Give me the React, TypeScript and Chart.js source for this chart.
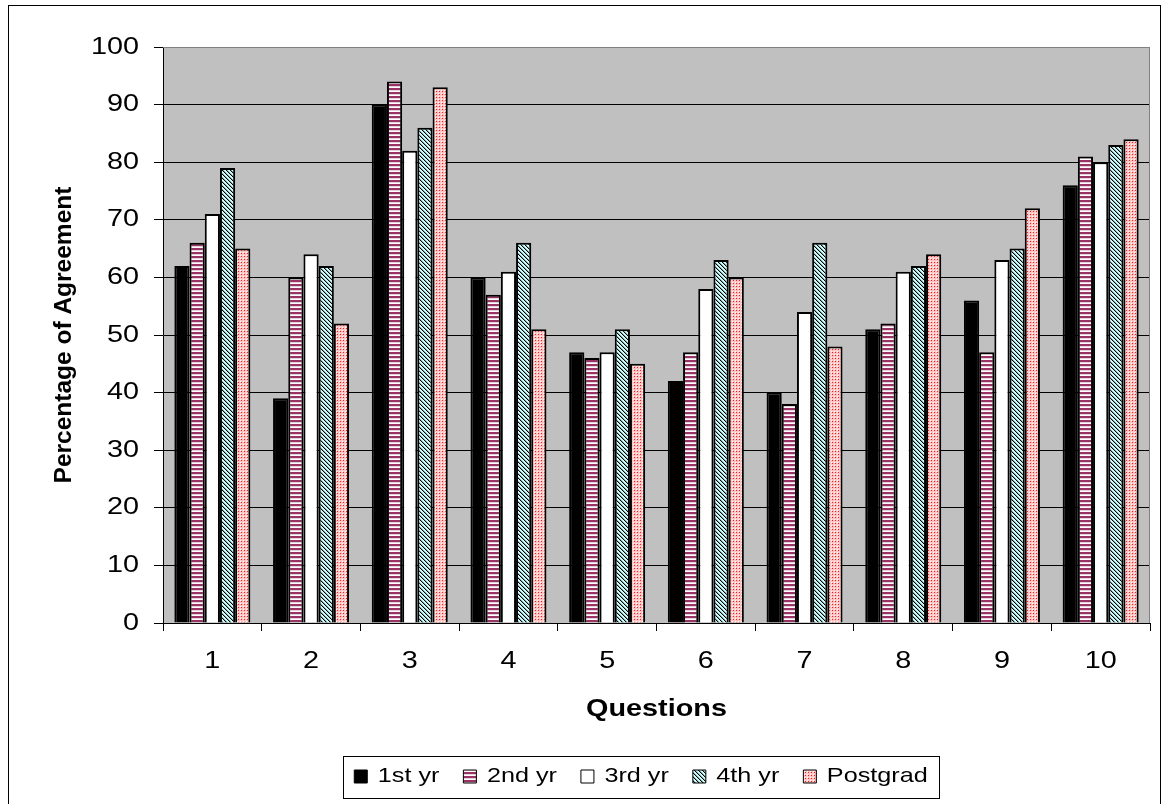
import React, { useEffect, useRef } from 'react';
import { Chart, registerables } from 'chart.js';

Chart.register(...registerables);

const questions = ['1', '2', '3', '4', '5', '6', '7', '8', '9', '10'];
const seriesNames = ['1st yr', '2nd yr', '3rd yr', '4th yr', 'Postgrad'];
const firstYear = [62, 39, 90, 60, 47, 42, 40, 51, 56, 76];
const secondYear = [66, 60, 94, 57, 46, 47, 38, 52, 47, 81];
const thirdYear = [71, 64, 82, 61, 47, 58, 54, 61, 63, 80];
const fourthYear = [79, 62, 86, 66, 51, 63, 66, 62, 65, 83];
const postgrad = [65, 52, 93, 51, 45, 60, 48, 64, 72, 84];
const yMin = 0;
const yMax = 100;
const yStep = 10;

const FONT = "'Liberation Sans', Arial, sans-serif";
const SX = 1.2;
const LEGEND_FONT = 21;
const LEGEND_PAD = 24;
const BOTTOM_PAD = 7;
const LEGEND_CENTER = 641;

function makePattern(kind: string): CanvasPattern | string {
  const c = document.createElement('canvas');
  const ctx = c.getContext('2d');
  if (!ctx) return '#fff';
  if (kind === 'hstripe') {
    c.width = 4; c.height = 4;
    ctx.fillStyle = '#ffffff';
    ctx.fillRect(0, 0, 4, 4);
    ctx.fillStyle = '#993366';
    ctx.fillRect(0, 0, 4, 2);
    ctx.fillStyle = '#e8d0dc';
    ctx.fillRect(0, 2, 4, 1);
  } else if (kind === 'diag') {
    c.width = 4; c.height = 4;
    ctx.fillStyle = '#ccffff';
    ctx.fillRect(0, 0, 4, 4);
    for (let y = 0; y < 4; y++) {
      ctx.fillStyle = '#000000';
      ctx.fillRect(y % 4, y, 1, 1);
      ctx.fillStyle = '#8aaaaa';
      ctx.fillRect((y + 1) % 4, y, 1, 1);
    }
  } else {
    c.width = 3; c.height = 3;
    ctx.fillStyle = '#ffc4c4';
    ctx.fillRect(0, 0, 3, 3);
    ctx.fillStyle = '#ffffff';
    ctx.fillRect(0, 0, 1, 1);
    ctx.fillStyle = '#ff1a1a';
    ctx.fillRect(1, 1, 1, 1);
  }
  return ctx.createPattern(c, 'repeat') || '#fff';
}

function stretchText(ctx: any) {
  const origFill = ctx.fillText.bind(ctx);
  const origMeasure = ctx.measureText.bind(ctx);
  ctx.fillText = (text: string, x: number, y: number, maxWidth?: number) => {
    const t = ctx.getTransform();
    if (Math.abs(t.b) > 1e-6 || Math.abs(t.c) > 1e-6) {
      if (maxWidth === undefined) origFill(text, x, y);
      else origFill(text, x, y, maxWidth);
      return;
    }
    ctx.save();
    ctx.translate(x, y);
    ctx.scale(SX, 1);
    if (maxWidth === undefined) origFill(text, 0, 0);
    else origFill(text, 0, 0, maxWidth / SX);
    ctx.restore();
  };
  ctx.measureText = (text: string) => {
    const m = origMeasure(text);
    return {
      width: m.width * SX,
      actualBoundingBoxAscent: m.actualBoundingBoxAscent,
      actualBoundingBoxDescent: m.actualBoundingBoxDescent,
      actualBoundingBoxLeft: m.actualBoundingBoxLeft * SX,
      actualBoundingBoxRight: m.actualBoundingBoxRight * SX,
      fontBoundingBoxAscent: m.fontBoundingBoxAscent,
      fontBoundingBoxDescent: m.fontBoundingBoxDescent,
    };
  };
}

const framePlugin = {
  id: 'framePlugin',
  afterLayout(chart: any) {
    const lg = chart.legend;
    if (lg) {
      const d = LEGEND_CENTER - (lg.left + lg.right) / 2;
      lg.left += d;
      lg.right += d;
    }
  },
  beforeDraw(chart: any) {
    const { ctx, chartArea: a } = chart;
    ctx.save();
    ctx.fillStyle = '#ffffff';
    ctx.fillRect(0, 0, chart.width, chart.height);
    ctx.strokeStyle = '#000000';
    ctx.lineWidth = 1;
    ctx.strokeRect(8.5, 5.5, 1152, 820);
    ctx.fillStyle = '#c0c0c0';
    ctx.fillRect(a.left, a.top, a.right - a.left, a.bottom - a.top);
    ctx.restore();
  },
  afterDraw(chart: any) {
    const { ctx, chartArea: a } = chart;
    ctx.save();
    ctx.strokeStyle = '#808080';
    ctx.lineWidth = 1;
    ctx.beginPath();
    ctx.moveTo(a.left, a.top + 0.5);
    ctx.lineTo(a.right - 0.5, a.top + 0.5);
    ctx.lineTo(a.right - 0.5, a.bottom);
    ctx.stroke();
    const hb = chart.legend && chart.legend.legendHitBoxes;
    if (hb && hb.length) {
      const first = hb[0];
      const last = hb[hb.length - 1];
      const left = Math.round(first.left - 11) + 0.5;
      const right = Math.round(last.left + last.width + 11) + 0.5;
      const cy = first.top + first.height / 2;
      const top = Math.round(cy - 21) + 0.5;
      const bottom = Math.round(cy + 21) + 0.5;
      ctx.strokeStyle = '#000000';
      ctx.strokeRect(left, top, right - left, bottom - top);
    }
    ctx.restore();
  },
};

export default function App() {
  const ref = useRef<HTMLCanvasElement | null>(null);

  useEffect(() => {
    const canvas = ref.current;
    if (!canvas) return;
    const c2d = canvas.getContext('2d');
    if (c2d) stretchText(c2d);
    const fills = [
      '#000000',
      makePattern('hstripe'),
      '#ffffff',
      makePattern('diag'),
      makePattern('dots'),
    ];
    const values = [firstYear, secondYear, thirdYear, fourthYear, postgrad];
    const datasets = seriesNames.map((name, i) => ({
      label: name,
      data: values[i],
      backgroundColor: fills[i] as any,
      borderColor: '#000000',
      borderWidth: 2,
      categoryPercentage: 0.77,
      barPercentage: 1.0,
    }));
    const legendHeight = LEGEND_FONT + LEGEND_PAD + 10;

    const chart = new Chart(canvas, {
      type: 'bar',
      data: { labels: questions, datasets },
      options: {
        responsive: false,
        animation: false,
        devicePixelRatio: 1,
        layout: { padding: { left: 40, top: 47, right: 12, bottom: BOTTOM_PAD } },
        plugins: {
          tooltip: { enabled: false },
          legend: {
            position: 'bottom',
            labels: {
              color: '#000000',
              font: { family: FONT, size: LEGEND_FONT },
              boxWidth: 13,
              boxHeight: 13,
              padding: LEGEND_PAD,
              generateLabels: (c: any) =>
                (Chart.defaults.plugins.legend.labels.generateLabels as any)(c).map((l: any) => ({
                  ...l,
                  lineWidth: 1,
                  strokeStyle: '#000000',
                })),
            },
          },
        },
        scales: {
          x: {
            type: 'category',
            grid: {
              drawOnChartArea: false,
              drawTicks: true,
              tickLength: 8,
              color: '#000000',
              offset: true,
            },
            border: { color: '#000000', width: 1 },
            ticks: {
              color: '#000000',
              font: { family: FONT, size: 24 },
              padding: 16,
              maxRotation: 0,
              autoSkip: false,
            },
            title: {
              display: true,
              text: 'Questions',
              color: '#000000',
              font: { family: FONT, size: 24, weight: 'bold' },
              padding: { top: 0, bottom: 18 },
            },
            afterFit: (s: any) => {
              const lh = s.chart.legend && s.chart.legend.height ? s.chart.legend.height : legendHeight;
              s.height = 804 - BOTTOM_PAD - lh - 623;
            },
          },
          y: {
            min: yMin,
            max: yMax,
            grid: {
              color: (ctx: any) => (ctx.tick && ctx.tick.value === yMax ? '#808080' : '#000000'),
              tickColor: '#000000',
              tickLength: 9,
              lineWidth: 1,
            },
            border: { color: '#000000', width: 1 },
            ticks: {
              stepSize: yStep,
              color: '#000000',
              font: { family: FONT, size: 24 },
              padding: 15,
            },
            title: {
              display: true,
              text: 'Percentage of Agreement',
              color: '#000000',
              font: { family: FONT, size: 24.5, weight: 'bold' },
              padding: { top: 10, bottom: 0 },
            },
            afterFit: (s: any) => {
              s.width = 123;
            },
          },
        },
      },
      plugins: [framePlugin],
    });
    return () => chart.destroy();
  }, []);

  return (
    <div style={{ position: 'fixed', left: 0, top: 0, width: 1162, height: 804, background: '#fff' }}>
      <canvas ref={ref} width={1162} height={804} style={{ display: 'block', width: 1162, height: 804 }} />
    </div>
  );
}
